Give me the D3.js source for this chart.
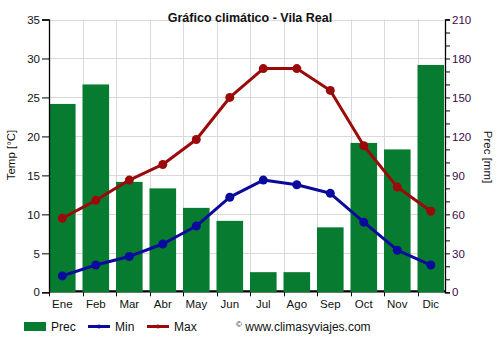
<!DOCTYPE html>
<html>
<head>
<meta charset="utf-8">
<script src="https://cdn.jsdelivr.net/npm/d3@7"></script>
<style>
  html, body { margin: 0; padding: 0; background: #fff; }
  svg { display: block; font-family: "Liberation Sans", Arial, sans-serif; }
</style>
</head>
<body>
<svg id="chart" width="500" height="350"></svg>
<script>
// Monthly climate data for Vila Real
const months = ["Ene", "Feb", "Mar", "Abr", "May", "Jun", "Jul", "Ago", "Sep", "Oct", "Nov", "Dic"];
const precMm = [145, 160, 85, 80, 65, 55, 15.5, 15.5, 50, 115, 110, 175];
const tempMin = [2.1, 3.5, 4.6, 6.2, 8.5, 12.2, 14.4, 13.8, 12.7, 9.0, 5.4, 3.5];
const tempMax = [9.5, 11.8, 14.4, 16.4, 19.6, 25.0, 28.7, 28.7, 25.9, 18.8, 13.5, 10.4];
const tempTicks = [0, 5, 10, 15, 20, 25, 30, 35];
const precTicks = [0, 30, 60, 90, 120, 150, 180, 210];

const svg = d3.select("#chart");
const plotL = 49, plotR = 445, plotT = 19.5, plotB = 292.3;
const step = 33.5;
const barW = 26.6;

const x = d3.scaleBand().domain(months).range([plotL, plotL + step * months.length]).padding(0);
const yT = d3.scaleLinear().domain([0, 35]).range([plotB, plotT]);
const yP = d3.scaleLinear().domain([0, 210]).range([plotB, plotT]);
const cx = m => x(m) + barW / 2;

// grid
const grid = svg.append("g").attr("stroke", "#d9d9d9").attr("stroke-width", 1);
tempTicks.slice(1).forEach(t => {
  grid.append("line").attr("x1", plotL).attr("x2", plotR)
    .attr("y1", Math.round(yT(t)) + 0.5).attr("y2", Math.round(yT(t)) + 0.5);
});
months.slice(1).forEach(m => {
  grid.append("line").attr("x1", Math.round(x(m)) + 0.5).attr("x2", Math.round(x(m)) + 0.5)
    .attr("y1", plotT).attr("y2", plotB);
});

// thick baseline underneath the bars
svg.append("line").attr("x1", plotL).attr("x2", plotR)
  .attr("y1", plotB - 1).attr("y2", plotB - 1)
  .attr("stroke", "#000").attr("stroke-width", 2.2);

// precipitation bars
svg.append("g").selectAll("rect").data(months).join("rect")
  .attr("x", m => x(m))
  .attr("width", barW)
  .attr("y", (m, i) => yP(precMm[i]))
  .attr("height", (m, i) => plotB - yP(precMm[i]))
  .attr("fill", "#077c30");

// left axis
const axL = svg.append("g").attr("transform", `translate(${plotL},0)`)
  .call(d3.axisLeft(yT).tickValues(tempTicks).tickSize(7).tickPadding(2));
axL.select(".domain").attr("stroke", "#000").attr("stroke-width", 1.3);
axL.selectAll(".tick line").attr("stroke", "#000");
axL.selectAll("text").attr("font-size", 11.5).attr("fill", "#111").style("font-family", "Liberation Sans, Arial, sans-serif");

// right axis with minor ticks every 10 mm
const axR = svg.append("g").attr("transform", `translate(${plotR},0)`)
  .call(d3.axisRight(yP).tickValues(d3.range(0, 211, 10)).tickSize(5).tickPadding(2)
    .tickFormat(d => precTicks.includes(d) ? d : ""));
axR.select(".domain").attr("stroke", "#000").attr("stroke-width", 1.3);
axR.selectAll(".tick line").attr("stroke", "#000");
axR.selectAll("text").attr("font-size", 11.5).attr("fill", "#3a0a4a").style("font-family", "Liberation Sans, Arial, sans-serif");

// bottom ticks and month labels
const axB = svg.append("g");
months.forEach(m => {
  axB.append("line").attr("x1", Math.round(x(m)) + 0.5).attr("x2", Math.round(x(m)) + 0.5)
    .attr("y1", plotB).attr("y2", plotB + 4).attr("stroke", "#000");
  axB.append("text").attr("x", cx(m)).attr("y", plotB + 15.5)
    .attr("text-anchor", "middle").attr("font-size", 11.5).attr("fill", "#111").text(m);
});

// temperature lines
const lineGen = arr => d3.line().x((d, i) => cx(months[i])).y(d => yT(d))(arr);
[[tempMin, "#0a0a9c"], [tempMax, "#9b0a0a"]].forEach(([arr, col]) => {
  svg.append("path").attr("d", lineGen(arr)).attr("fill", "none")
    .attr("stroke", col).attr("stroke-width", 3).attr("stroke-linejoin", "round");
  svg.append("g").selectAll("circle").data(arr).join("circle")
    .attr("cx", (d, i) => cx(months[i])).attr("cy", d => yT(d)).attr("r", 4.5).attr("fill", col);
});

// title
svg.append("text").attr("x", 250).attr("y", 22).attr("text-anchor", "middle")
  .attr("font-size", 12.5).attr("font-weight", "bold").attr("fill", "#111")
  .text("Gráfico climático - Vila Real");

// axis titles
svg.append("text").attr("transform", "translate(15,155) rotate(-90)")
  .attr("text-anchor", "middle").attr("font-size", 11.5).attr("fill", "#111").text("Temp [°C]");
svg.append("text").attr("transform", "translate(484,157) rotate(90)")
  .attr("text-anchor", "middle").attr("font-size", 11.5).attr("fill", "#111").text("Prec [mm]");

// legend
const lg = svg.append("g");
lg.append("rect").attr("x", 24).attr("y", 322).attr("width", 22).attr("height", 9).attr("fill", "#077c30");
lg.append("text").attr("x", 51).attr("y", 331).attr("font-size", 12).attr("fill", "#111").text("Prec");
lg.append("line").attr("x1", 88).attr("x2", 110).attr("y1", 326.5).attr("y2", 326.5)
  .attr("stroke", "#0a0a9c").attr("stroke-width", 3);
lg.append("circle").attr("cx", 99).attr("cy", 326.5).attr("r", 2).attr("fill", "#0a0a9c");
lg.append("text").attr("x", 115).attr("y", 331).attr("font-size", 12).attr("fill", "#111").text("Min");
lg.append("line").attr("x1", 147).attr("x2", 169).attr("y1", 326.5).attr("y2", 326.5)
  .attr("stroke", "#9b0a0a").attr("stroke-width", 3);
lg.append("circle").attr("cx", 158).attr("cy", 326.5).attr("r", 2).attr("fill", "#9b0a0a");
lg.append("text").attr("x", 174).attr("y", 331).attr("font-size", 12).attr("fill", "#111").text("Max");
lg.append("text").attr("x", 236).attr("y", 331).attr("font-size", 12).attr("fill", "#111")
  .html('<tspan font-size="8" dy="-4">©</tspan><tspan dy="4"> www.climasyviajes.com</tspan>');
</script>
</body>
</html>
